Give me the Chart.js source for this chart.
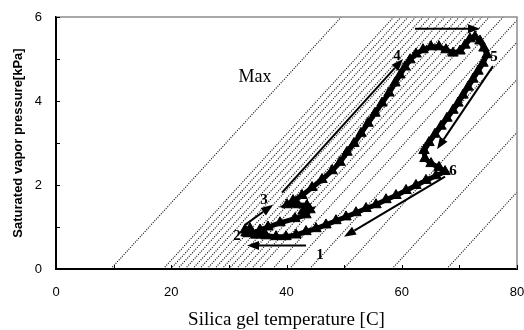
<!DOCTYPE html>
<html>
<head>
<meta charset="utf-8">
<script src="https://cdn.jsdelivr.net/npm/chart.js@4"></script>
<style>
  html, body { margin: 0; padding: 0; background: #fff; }
</style>
</head>
<body>
<canvas id="chart" width="524" height="330"></canvas>
<script>
// --- DATA ---
// measured cycle, silica gel temperature [C] vs saturated vapor pressure [kPa]
const tempC = [
  32.97, 33.67, 34.71, 35.40, 36.79, 38.87, 41.47, 43.38, 44.08, 42.87,
  43.56, 42.00, 40.09, 41.13,
  42.69, 44.43, 46.16, 47.90, 49.28, 50.50, 51.71, 52.93, 54.14, 55.36,
  56.57, 57.79, 58.83, 59.70, 60.56, 61.43, 62.47, 63.69, 65.08, 66.46,
  67.68, 68.89, 70.11, 70.98, 71.84, 72.71, 73.58, 74.27, 74.79, 74.10,
  73.23, 72.36, 71.50, 70.63, 69.76, 68.89, 67.85, 66.81, 65.77, 64.73,
  63.86, 64.03, 65.08, 66.46, 67.51, 65.94, 64.21, 62.47, 60.74, 59.00,
  57.27, 55.53, 53.80, 52.06, 50.33, 48.59, 46.85, 45.12, 43.38, 41.65,
  39.91, 38.18, 36.44, 34.71, 33.32, 32.80
];
const pressureKPa = [
  0.86, 0.96, 0.81, 0.93, 1.00, 1.10, 1.20, 1.29, 1.41, 1.38,
  1.51, 1.53, 1.53, 1.63,
  1.75, 1.94, 2.13, 2.34, 2.54, 2.78, 2.99, 3.23, 3.47, 3.71,
  3.95, 4.19, 4.43, 4.62, 4.81, 4.98, 5.12, 5.22, 5.29, 5.29,
  5.22, 5.14, 5.19, 5.33, 5.48, 5.53, 5.43, 5.26, 5.10, 4.90,
  4.71, 4.52, 4.33, 4.14, 3.95, 3.78, 3.59, 3.40, 3.21, 3.01,
  2.82, 2.63, 2.51, 2.42, 2.32, 2.22, 2.11, 1.99, 1.87, 1.75,
  1.65, 1.53, 1.44, 1.34, 1.24, 1.15, 1.05, 0.96, 0.89, 0.81,
  0.77, 0.77, 0.79, 0.81, 0.84, 0.93
];

// dotted isostere lines: temperature where each crosses 0 kPa and 6 kPa
const isoT0 = [9.5, 18.6, 19.9, 21.1, 22.4, 23.7, 24.9, 26.2, 27.5, 28.8, 30.0, 31.3, 32.6, 33.9, 35.2, 37.6, 40.5, 44.0, 49.9, 58.3, 67.8];
const isoT6 = [49.5, 58.6, 59.9, 61.1, 62.4, 63.7, 64.9, 66.2, 67.5, 68.8, 70.0, 71.3, 72.6, 73.9, 75.2, 77.6, 80.5, 84.0, 89.9, 98.3, 107.8];

// process arrows [fromT, fromP, toT, toP]
const arrows = [
  [43.38, 0.56, 33.15, 0.56],
  [32.80, 1.05, 37.66, 1.53],
  [39.22, 1.82, 60.22, 5.00],
  [62.30, 5.72, 73.58, 5.72],
  [75.83, 4.83, 66.12, 2.85],
  [67.51, 2.20, 49.98, 0.77]
];

// state point labels
const stateLabels = ['1', '2', '3', '4', '5', '6'];
const stateT = [45.81, 31.41, 36.10, 59.18, 76.01, 68.89];
const stateP = [0.33, 0.79, 1.63, 5.07, 5.05, 2.32];

const xTicks = [0, 20, 40, 60, 80];
const yTicks = [0, 2, 4, 6];

// --- BUILD DATASETS ---
const cycle = tempC.map((t, i) => ({ x: t, y: pressureKPa[i] }));

const datasets = [{
  data: cycle,
  showLine: true,
  borderColor: '#000',
  borderWidth: 5,
  pointStyle: 'triangle',
  pointRadius: 6,
  pointBackgroundColor: '#000',
  pointBorderColor: '#000',
  pointBorderWidth: 1
}];

isoT0.forEach((t, i) => {
  datasets.push({
    data: [{ x: t, y: 0 }, { x: isoT6[i], y: 6 }],
    showLine: true,
    borderColor: '#000',
    borderWidth: 1.1,
    borderDash: [1, 1.4],
    pointRadius: 0
  });
});

// draws frame, inside ticks, arrows and text
const overlay = {
  id: 'overlay',
  afterDatasetsDraw(chart) {
    const { ctx, chartArea: a, scales: { x, y } } = chart;
    ctx.save();

    ctx.strokeStyle = '#8c8c8c';
    ctx.lineWidth = 1.5;
    ctx.beginPath();
    ctx.moveTo(a.left, a.top);
    ctx.lineTo(a.right, a.top);
    ctx.lineTo(a.right, a.bottom);
    ctx.stroke();

    ctx.strokeStyle = '#000';
    ctx.lineWidth = 1;
    x.ticks.forEach(t => {
      const px = Math.round(x.getPixelForValue(t.value)) + 0.5;
      ctx.beginPath();
      ctx.moveTo(px, a.bottom);
      ctx.lineTo(px, a.bottom - 4);
      ctx.stroke();
    });
    y.ticks.forEach(t => {
      const py = Math.round(y.getPixelForValue(t.value)) + 0.5;
      ctx.beginPath();
      ctx.moveTo(a.left, py);
      ctx.lineTo(a.left + 4, py);
      ctx.stroke();
    });

    ctx.fillStyle = '#000';
    ctx.lineWidth = 2;
    arrows.forEach(([t0, p0, t1, p1]) => {
      const x0 = x.getPixelForValue(t0), y0 = y.getPixelForValue(p0);
      const x1 = x.getPixelForValue(t1), y1 = y.getPixelForValue(p1);
      const ang = Math.atan2(y1 - y0, x1 - x0);
      const len = 12, half = 4.5;
      const bx = x1 - len * Math.cos(ang), by = y1 - len * Math.sin(ang);
      ctx.beginPath();
      ctx.moveTo(x0, y0);
      ctx.lineTo(bx, by);
      ctx.stroke();
      ctx.beginPath();
      ctx.moveTo(x1, y1);
      ctx.lineTo(bx + half * Math.sin(ang), by - half * Math.cos(ang));
      ctx.lineTo(bx - half * Math.sin(ang), by + half * Math.cos(ang));
      ctx.closePath();
      ctx.fill();
    });

    ctx.textAlign = 'center';
    ctx.textBaseline = 'middle';
    ctx.font = 'bold 15px "Liberation Serif", serif';
    stateLabels.forEach((s, i) => {
      ctx.fillText(s, x.getPixelForValue(stateT[i]), y.getPixelForValue(stateP[i]));
    });
    ctx.font = '18px "Liberation Serif", serif';
    ctx.fillText('Max', x.getPixelForValue(34.53), y.getPixelForValue(4.57));

    ctx.restore();
  }
};

new Chart(document.getElementById('chart'), {
  type: 'scatter',
  data: { datasets },
  options: {
    responsive: false,
    animation: false,
    layout: { padding: { top: 17, right: 7, left: 0, bottom: 0 } },
    plugins: { legend: { display: false }, tooltip: { enabled: false } },
    scales: {
      x: {
        min: 0, max: 80,
        afterFit: s => { s.height = 61; s.paddingLeft = 0; s.paddingRight = 0; },
        grid: { display: true, drawOnChartArea: false, drawTicks: false },
        border: { color: '#000', width: 2 },
        ticks: {
          stepSize: 10, padding: 16, color: '#000',
          font: { family: '"Liberation Sans", Arial', size: 13 },
          callback: v => xTicks.includes(v) ? v : ''
        },
        title: {
          display: true, text: 'Silica gel temperature [C]', color: '#000',
          font: { family: '"Liberation Serif", serif', size: 19, lineHeight: 1 },
          padding: { top: 0, bottom: 0 }
        }
      },
      y: {
        min: 0, max: 6,
        afterFit: s => { s.width = 56; s.paddingTop = 0; s.paddingBottom = 0; },
        grid: { display: true, drawOnChartArea: false, drawTicks: false },
        border: { color: '#000', width: 2 },
        ticks: {
          stepSize: 1, padding: 14, color: '#000',
          font: { family: '"Liberation Sans", Arial', size: 13 },
          callback: v => yTicks.includes(v) ? v : ''
        },
        title: {
          display: true, text: 'Saturated vapor pressure[kPa]', color: '#000',
          font: { family: '"Liberation Sans", Arial', size: 13, weight: 'bold', lineHeight: 1.2 },
          padding: { top: 11, bottom: 0 }
        }
      }
    }
  },
  plugins: [overlay]
});
</script>
</body>
</html>
